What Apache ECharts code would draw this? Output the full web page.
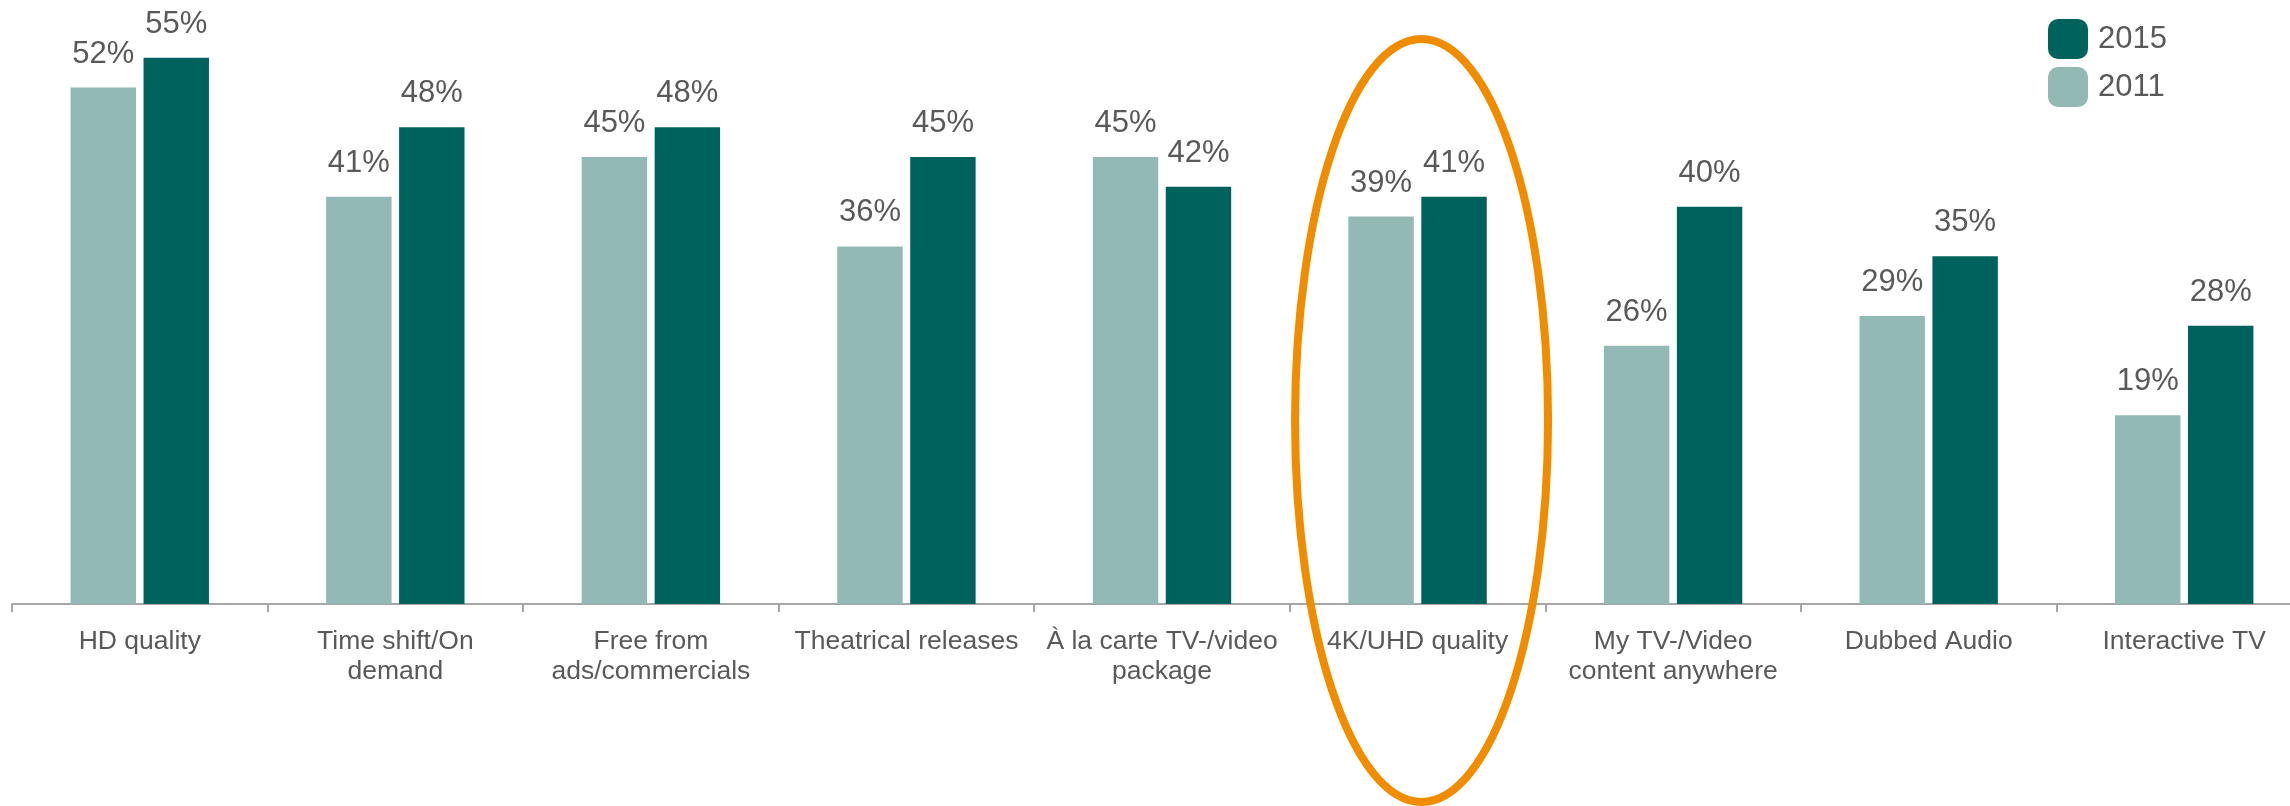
<!DOCTYPE html>
<html>
<head>
<meta charset="utf-8">
<title>TV service features 2011 vs 2015</title>
<script src="https://cdn.jsdelivr.net/npm/echarts@6/dist/echarts.min.js"></script>
<style>
  html, body { margin: 0; padding: 0; background: #ffffff; overflow: hidden; }
  /* the last category runs a little past the right edge of the window */
  #chart { width: 2312px; height: 806px; }
</style>
</head>
<body>
<div id="chart"></div>
<script>
// Feature categories shown along the x axis
const categories = [
  'HD quality',
  'Time shift/On\ndemand',
  'Free from\nads/commercials',
  'Theatrical releases',
  'À la carte TV-/video\npackage',
  '4K/UHD quality',
  'My TV-/Video\ncontent anywhere',
  'Dubbed Audio',
  'Interactive TV'
];

// Share of respondents (%) per survey year
const values2011 = [52, 41, 45, 36, 45, 39, 26, 29, 19];
const values2015 = [55, 48, 48, 45, 42, 41, 40, 35, 28];

// Category that gets the orange highlight ring
const highlighted = '4K/UHD quality';

const FONT = '"Liberation Sans", Arial, sans-serif';
const TEXT = '#595959';
const LIGHT = '#93B9B4';
const DARK = '#00625D';

const chart = echarts.init(document.getElementById('chart'), null, { renderer: 'canvas' });

const valueLabel = {
  show: true,
  position: 'top',
  distance: 18,
  formatter: '{c}%',
  color: TEXT,
  fontFamily: FONT,
  fontSize: 31
};

chart.setOption({
  animation: false,
  backgroundColor: '#ffffff',
  grid: { left: 12, right: 0, top: 8, height: 596, containLabel: false, outerBoundsMode: 'none' },
  legend: {
    orient: 'vertical',
    left: 2048,
    top: 19,
    padding: 0,
    itemWidth: 40,
    itemHeight: 40,
    itemGap: 8,
    icon: 'roundRect',
    data: ['2015', '2011'],
    textStyle: { color: TEXT, fontFamily: FONT, fontSize: 31, padding: [0, 0, 0, 5] }
  },
  xAxis: {
    type: 'category',
    data: categories,
    offset: 4,
    axisLine: { show: true, lineStyle: { color: '#A6A6A6', width: 2 } },
    axisTick: { show: true, length: 8, lineStyle: { color: '#A6A6A6', width: 2 } },
    axisLabel: {
      color: TEXT,
      fontFamily: FONT,
      fontSize: 26.5,
      lineHeight: 30,
      margin: 19,
      interval: 0
    }
  },
  yAxis: {
    type: 'value',
    min: 0,
    max: 60,
    show: false,
    splitLine: { show: false }
  },
  series: [
    {
      name: '2011',
      type: 'bar',
      data: values2011,
      barWidth: '25.6%',
      barGap: '11.5%',
      itemStyle: { color: LIGHT },
      label: valueLabel
    },
    {
      name: '2015',
      type: 'bar',
      data: values2015,
      barWidth: '25.6%',
      barGap: '11.5%',
      itemStyle: { color: DARK },
      label: valueLabel
    }
  ]
});

// Orange ring drawn around the highlighted category
const cx = chart.convertToPixel({ xAxisIndex: 0 }, highlighted) + 4;
chart.setOption({
  graphic: [{
    type: 'ellipse',
    z: 100,
    shape: { cx: cx, cy: 420.5, rx: 126.5, ry: 381.5 },
    style: { fill: 'none', stroke: '#F08C00', lineWidth: 8 }
  }]
});
</script>
</body>
</html>
